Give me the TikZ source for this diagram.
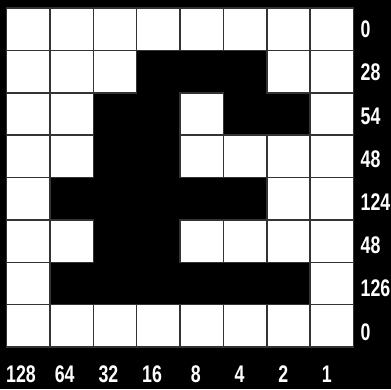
\documentclass[tikz,border=0pt]{standalone}
\usepackage{fontspec}
\setmainfont{Liberation Sans}[FakeStretch=0.74]

\begin{document}
\begin{tikzpicture}[
    x=1pt,
    y=-1pt,
    line join=miter,
    pixel/.style={
        fill=white,
        draw=black!80,
        line width=1.5pt
    },
    weight/.style={
        text=white,
        font=\bfseries\fontsize{24}{24}\selectfont,
        inner sep=0pt
    }
]
    % Grid geometry
    \def\gridleft{6.5}
    \def\gridtop{8}
    \pgfmathsetmacro{\cellw}{43.375}
    \pgfmathsetmacro{\cellh}{42.375}

    % Black background, also fixes the margins
    \fill[black] (0,0) rectangle (391,389);
    \useasboundingbox (0,0) rectangle (391,389);

    % One row per byte: a white square where the bit is 0
    \foreach \v [count=\r from 0] in {0,28,54,48,124,48,126,0} {
        \foreach \c in {0,...,7} {
            \pgfmathtruncatemacro{\bit}{mod(floor(\v/2^(7-\c)),2)}
            \ifnum\bit=0
                \draw[pixel] (\gridleft+\c*\cellw,\gridtop+\r*\cellh)
                    rectangle ++(\cellw,\cellh);
            \fi
        }
        % Row value on the right
        \node[weight, anchor=west] (row\r) at (360.5,29.5+\r*43.2) {\v};
    }

    % Bit weights under the columns
    \foreach \w [count=\c from 0] in {128,64,32,16,8,4,2,1} {
        \node[weight] (bit\c) at (21+\c*43.7,374) {\w};
    }
\end{tikzpicture}
\end{document}
